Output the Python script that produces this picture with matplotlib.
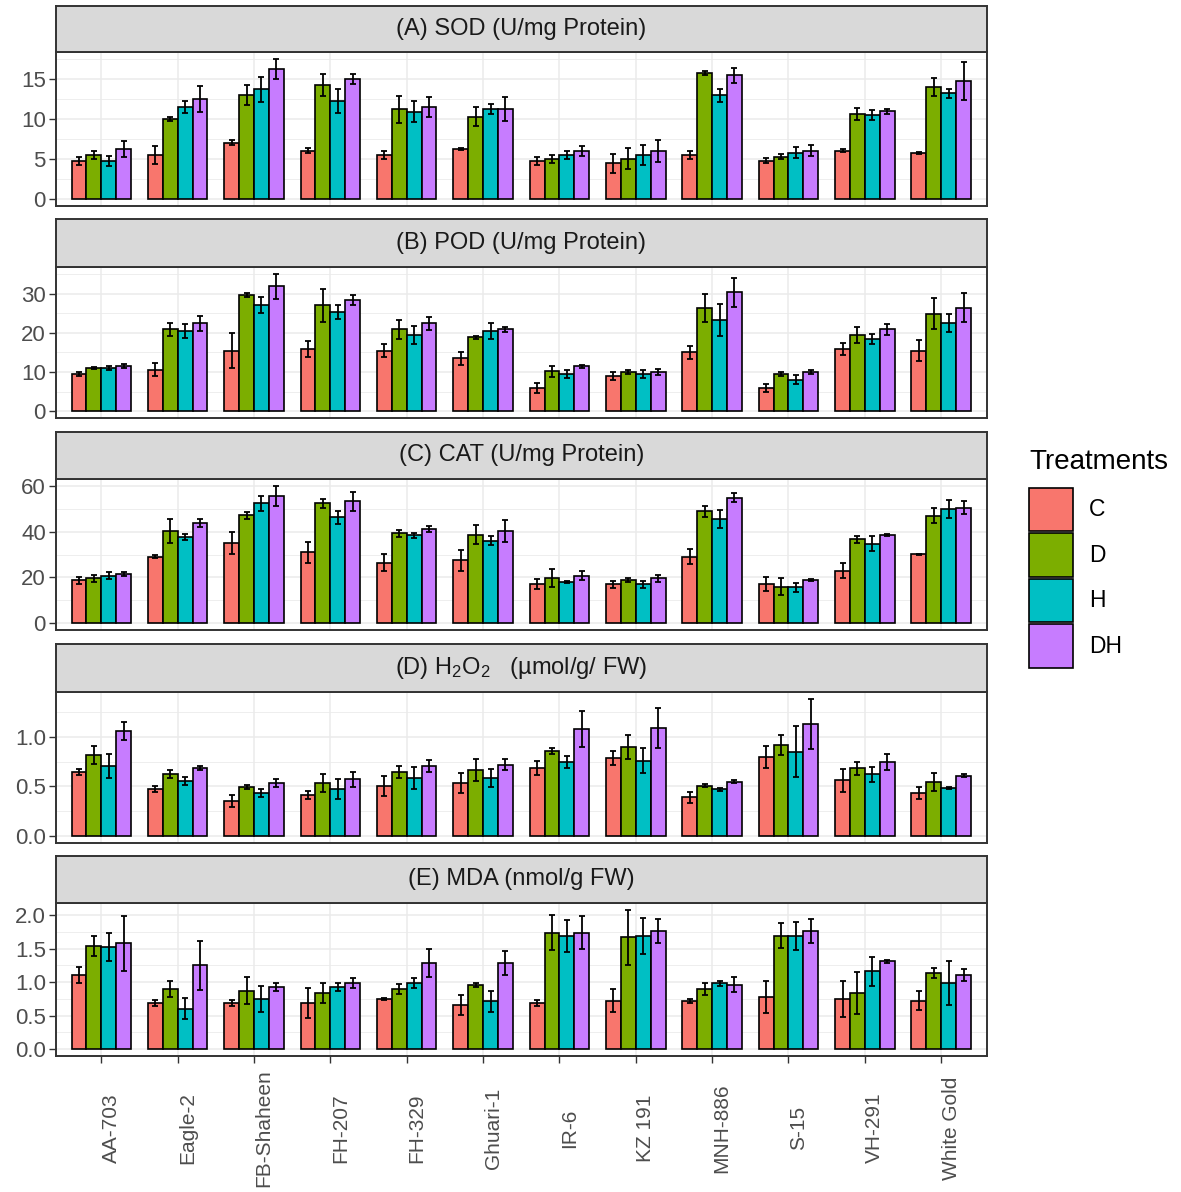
import numpy as np
import matplotlib
matplotlib.use("Agg")
import matplotlib.pyplot as plt
from matplotlib.patches import Patch
from matplotlib.ticker import MultipleLocator, FormatStrFormatter
from matplotlib.transforms import ScaledTranslation

plt.rcParams["font.family"] = ["Liberation Sans", "DejaVu Sans"]
plt.rcParams["mathtext.fontset"] = "custom"
plt.rcParams["mathtext.rm"] = "Liberation Sans"

# ---------------- data ----------------
varieties = ["AA-703", "Eagle-2", "FB-Shaheen", "FH-207", "FH-329", "Ghuari-1",
             "IR-6", "KZ 191", "MNH-886", "S-15", "VH-291", "White Gold"]
treatments = ["C", "D", "H", "DH"]
colors = ["#F8766D", "#7CAE00", "#00BFC4", "#C77CFF"]

# rows follow treatments C, D, H, DH
sod_mean = [
    [4.77, 5.53, 7.05, 6.04, 5.53, 6.25, 4.77, 4.48, 5.53, 4.77, 6.04, 5.79],
    [5.53, 10.0, 12.97, 14.24, 11.24, 10.27, 5.03, 5.03, 15.76, 5.28, 10.69, 13.98],
    [4.77, 11.5, 13.7, 12.25, 10.94, 11.24, 5.53, 5.53, 12.97, 5.79, 10.48, 13.22],
    [6.25, 12.5, 16.26, 15.0, 11.5, 11.24, 6.04, 6.04, 15.46, 6.04, 10.98, 14.79],
]
sod_err = [
    [0.5, 1.15, 0.3, 0.3, 0.5, 0.15, 0.5, 1.2, 0.5, 0.3, 0.2, 0.15],
    [0.5, 0.2, 1.25, 1.4, 1.7, 1.2, 0.5, 1.3, 0.3, 0.3, 0.75, 1.1],
    [0.6, 0.8, 1.6, 1.5, 1.3, 0.6, 0.5, 1.25, 0.8, 0.7, 0.6, 0.6],
    [1.05, 1.6, 1.25, 0.6, 1.25, 1.5, 0.6, 1.35, 0.95, 0.7, 0.3, 2.4],
]
pod_mean = [
    [9.47, 10.57, 15.47, 15.89, 15.47, 13.52, 5.92, 9.04, 15.05, 5.92, 15.89, 15.47],
    [10.99, 20.88, 29.59, 27.05, 20.88, 18.85, 10.14, 9.97, 26.37, 9.47, 19.44, 24.94],
    [10.99, 20.46, 27.05, 25.36, 19.44, 20.46, 9.47, 9.47, 23.25, 8.03, 18.43, 22.4],
    [11.58, 22.4, 31.87, 28.49, 22.4, 20.88, 11.41, 9.97, 30.43, 9.97, 20.88, 26.46],
]
pod_err = [
    [0.6, 1.7, 4.4, 2.0, 1.6, 1.7, 1.3, 1.0, 1.7, 1.0, 1.5, 2.7],
    [0.2, 1.7, 0.5, 4.2, 2.4, 0.4, 1.5, 0.5, 3.6, 0.6, 2.1, 3.9],
    [0.6, 1.9, 2.1, 1.7, 2.3, 2.1, 1.0, 1.0, 4.0, 1.1, 1.3, 2.3],
    [0.5, 1.8, 3.2, 1.3, 1.7, 0.6, 0.5, 0.8, 3.7, 0.5, 1.5, 3.6],
]
cat_mean = [
    [18.8, 29.1, 34.95, 30.9, 26.5, 27.5, 17.0, 17.0, 29.1, 17.0, 22.9, 30.1],
    [19.66, 40.3, 47.2, 52.3, 39.2, 38.6, 19.66, 18.8, 48.8, 16.0, 36.7, 46.9],
    [20.7, 37.7, 52.3, 46.2, 38.4, 36.0, 18.1, 17.0, 45.4, 15.6, 34.8, 49.8],
    [21.4, 43.7, 55.6, 53.2, 41.1, 40.3, 20.7, 19.66, 54.9, 18.8, 38.6, 50.5],
]
cat_err = [
    [1.5, 0.8, 4.7, 4.7, 3.6, 4.5, 2.2, 1.5, 3.3, 3.0, 3.3, 0.3],
    [1.5, 5.1, 1.5, 2.0, 1.5, 4.2, 4.0, 1.0, 2.5, 3.6, 1.5, 3.3],
    [1.5, 1.2, 3.4, 3.0, 1.0, 2.0, 0.5, 1.5, 4.0, 2.0, 3.3, 4.0],
    [1.0, 1.8, 4.4, 4.0, 1.3, 4.9, 2.0, 1.5, 1.8, 0.5, 0.5, 2.9],
]
h2o2_mean = [
    [0.646, 0.47, 0.357, 0.414, 0.507, 0.53, 0.685, 0.785, 0.39, 0.80, 0.563, 0.43],
    [0.82, 0.62, 0.49, 0.53, 0.646, 0.662, 0.86, 0.894, 0.507, 0.917, 0.68, 0.546],
    [0.705, 0.556, 0.43, 0.47, 0.586, 0.586, 0.745, 0.76, 0.47, 0.85, 0.623, 0.48],
    [1.053, 0.685, 0.53, 0.57, 0.705, 0.72, 1.076, 1.09, 0.546, 1.13, 0.745, 0.606],
]
h2o2_err = [
    [0.03, 0.03, 0.06, 0.04, 0.1, 0.1, 0.075, 0.07, 0.055, 0.11, 0.115, 0.06],
    [0.09, 0.04, 0.02, 0.09, 0.06, 0.11, 0.03, 0.12, 0.015, 0.1, 0.065, 0.09],
    [0.12, 0.04, 0.04, 0.1, 0.11, 0.09, 0.065, 0.125, 0.015, 0.26, 0.075, 0.01],
    [0.09, 0.02, 0.04, 0.075, 0.06, 0.06, 0.18, 0.2, 0.015, 0.25, 0.08, 0.015],
]
mda_mean = [
    [1.11, 0.687, 0.687, 0.687, 0.747, 0.66, 0.687, 0.722, 0.722, 0.783, 0.747, 0.722],
    [1.545, 0.9, 0.874, 0.838, 0.9, 0.965, 1.742, 1.67, 0.9, 1.697, 0.838, 1.136],
    [1.52, 0.606, 0.747, 0.934, 0.985, 0.712, 1.697, 1.697, 0.985, 1.697, 1.16, 0.985],
    [1.58, 1.25, 0.934, 0.985, 1.288, 1.288, 1.742, 1.768, 0.96, 1.768, 1.313, 1.11],
]
mda_err = [
    [0.12, 0.05, 0.05, 0.23, 0.02, 0.15, 0.05, 0.17, 0.03, 0.24, 0.27, 0.14],
    [0.15, 0.12, 0.2, 0.15, 0.07, 0.03, 0.26, 0.41, 0.09, 0.19, 0.32, 0.07],
    [0.21, 0.16, 0.2, 0.06, 0.07, 0.16, 0.24, 0.27, 0.04, 0.21, 0.21, 0.33],
    [0.41, 0.36, 0.06, 0.07, 0.21, 0.18, 0.25, 0.18, 0.11, 0.18, 0.02, 0.09],
]

titles = ["(A) SOD (U/mg Protein)", "(B) POD (U/mg Protein)", "(C) CAT (U/mg Protein)",
          r"(D) $\mathregular{H_2O_2}$   (µmol/g/ FW)", "(E) MDA (nmol/g FW)"]
ytick_steps = [5, 10, 20, 0.5, 0.5]
panels = [(sod_mean, sod_err), (pod_mean, pod_err), (cat_mean, cat_err),
          (h2o2_mean, h2o2_err), (mda_mean, mda_err)]

# ---------------- layout (pixels of the 1181 x 1192 canvas) ----------------
W, H = 1181, 1192
x_left, x_right = 55.5, 987
strip_tops = [6, 219, 432, 644, 856]
plot_tops = [52, 267, 479, 692, 903]
plot_bottoms = [206, 418, 630, 843, 1056]

fig = plt.figure(figsize=(W / 100, H / 100), dpi=100)

grid_col = "#EBEBEB"
border_col = "#333333"
tick_col = "#4D4D4D"
x = np.arange(len(varieties))
bw = 0.195

for p, (means, errs) in enumerate(panels):
    ax = fig.add_axes([x_left / W, 1 - plot_bottoms[p] / H,
                       (x_right - x_left) / W, (plot_bottoms[p] - plot_tops[p]) / H])
    for j, t in enumerate(treatments):
        off = (j - 1.5) * bw
        ax.bar(x + off, means[j], width=bw, color=colors[j], edgecolor="black",
               linewidth=1.2, zorder=3)
        ax.errorbar(x + off, means[j], yerr=errs[j], fmt="none", ecolor="black",
                    elinewidth=1.3, capsize=2, capthick=1.3, zorder=4)

    top = max(max(np.array(m) + np.array(e)) for m, e in zip(means, errs))
    ax.set_ylim(-0.05 * top, 1.05 * top)
    ax.set_xlim(-0.6, len(varieties) - 0.4)

    step = ytick_steps[p]
    ax.yaxis.set_major_locator(MultipleLocator(step))
    ax.yaxis.set_minor_locator(MultipleLocator(step / 2))
    ax.yaxis.set_major_formatter(FormatStrFormatter("%.1f" if step < 1 else "%d"))
    ax.set_xticks(x)
    ax.grid(True, which="major", color=grid_col, linewidth=1.1, zorder=0)
    ax.grid(True, which="minor", axis="y", color=grid_col, linewidth=0.6, zorder=0)
    ax.set_axisbelow(True)

    for s in ax.spines.values():
        s.set_color(border_col)
        s.set_linewidth(1.4)
    ax.tick_params(axis="y", which="major", length=5, width=1.0, color=border_col,
                   labelcolor=tick_col, labelsize=16, pad=2)
    ax.tick_params(axis="y", which="minor", length=0)
    if p < len(panels) - 1:
        ax.tick_params(axis="x", length=0, labelbottom=False)
    else:
        ax.tick_params(axis="x", length=5, width=1.0, color=border_col, labelbottom=False)
        offset = ScaledTranslation(0.10, 0, fig.dpi_scale_trans)
        for i, name in enumerate(varieties):
            ax.text(i, -0.47, name, rotation=90, ha="center", va="center",
                    fontsize=15, color=tick_col,
                    transform=ax.get_xaxis_transform() + offset)

    # facet strip
    sax = fig.add_axes([x_left / W, 1 - plot_tops[p] / H,
                        (x_right - x_left) / W, (plot_tops[p] - strip_tops[p]) / H])
    sax.set_facecolor("#D9D9D9")
    sax.set_xticks([])
    sax.set_yticks([])
    for s in sax.spines.values():
        s.set_color(border_col)
        s.set_linewidth(1.4)
    sax.text(0.5, 0.5, titles[p], ha="center", va="center", fontsize=17,
             color="#1A1A1A", transform=sax.transAxes)

handles = [Patch(facecolor=c, edgecolor="black", linewidth=1.2) for c in colors]
leg = fig.legend(handles, treatments, title="Treatments", loc="upper left",
                 bbox_to_anchor=(1020 / W, 1 - 440 / H), frameon=False,
                 fontsize=16.5, title_fontsize=20, handlelength=1.9, handleheight=2.55,
                 labelspacing=0.08, handletextpad=0.7, borderaxespad=0)
leg._legend_box.align = "left"
leg._legend_box.sep = 9

fig.savefig("out.png", dpi=100)
